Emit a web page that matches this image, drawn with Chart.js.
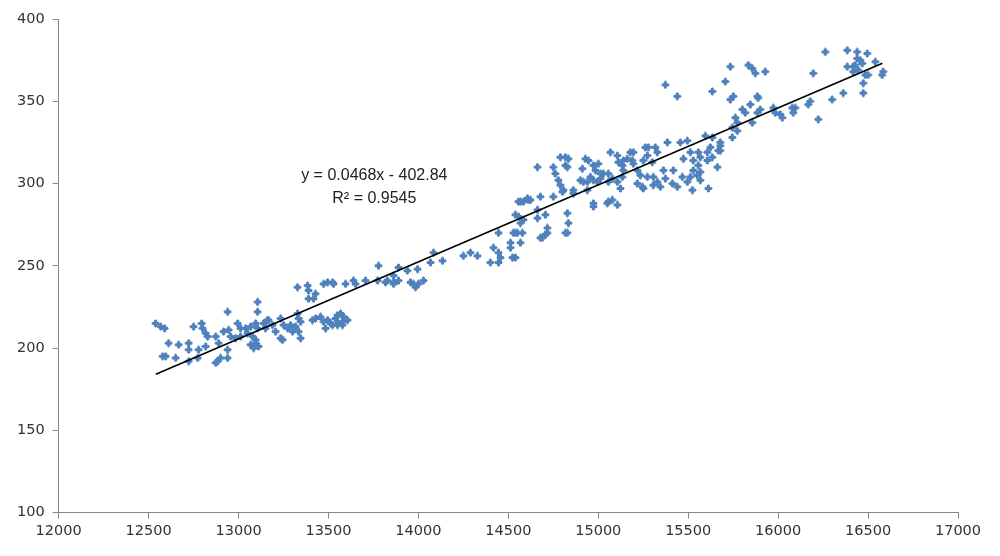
<!DOCTYPE html>
<html>
<head>
<meta charset="utf-8">
<script src="https://cdn.jsdelivr.net/npm/chart.js@4/dist/chart.umd.min.js"></script>
<style>
  html, body { margin: 0; padding: 0; background: #fff; }
  #wrap { width: 1000px; height: 556px; position: relative; }
</style>
</head>
<body>
<div id="wrap"><canvas id="grafico"></canvas></div>
<script>
// valores (x, y)
const valoresX = [
  12539, 12567, 12589, 12750, 12795, 12800, 12817, 12828, 12873, 12889,
  12611, 12667, 12723, 12723, 12778, 12817, 12578, 12595, 12650, 12723,
  12773, 12884, 12873, 12900, 12939, 12939, 12917, 12945, 12995, 12956,
  13011, 13050, 13067, 13095, 13106, 13095, 13106, 13106, 12939, 13039,
  13139, 13161, 13011, 13078, 13095, 12984, 13067, 13111, 13084,
  13778, 13862, 13328, 13384, 13389, 13428, 13389, 13417, 13473, 13495,
  13523, 13528, 13595, 13639, 13650, 13706, 13773, 13817, 13862, 13328,
  13167, 13189, 13234, 13250, 13273, 13289, 13317, 13334, 13345, 13300,
  13334, 13206, 13150, 13234, 13245, 13345, 13411, 13428, 13456, 13473,
  13495, 13512, 13539, 13550, 13567, 13584, 13578, 13556, 13606, 13484,
  13523, 13550, 13578,
  13828, 13862, 13889, 13889, 13939, 13956, 13973, 13984, 14000, 14028,
  13995, 14067, 14084, 14134, 14250, 14289, 14328, 14400, 14417, 14445,
  14445, 14456, 14512, 14512, 14523, 14539, 14445, 14528, 14539, 14550,
  14578, 14567, 14539, 14556, 14584, 14662, 14706, 14678, 14706, 14717,
  14817, 14834, 14828, 14567, 14584, 14611, 14973, 15056, 15106,
  14567, 14662, 14717, 14689, 14828, 14556, 14606, 14623, 14678, 14750,
  14662, 14761, 14750, 14778, 14789, 14806, 14800, 14817, 14834, 14817,
  14828, 14789, 14861, 14861, 14900, 14917, 14939, 14956, 14973, 14995,
  14911, 14928, 14945, 14973, 14984, 15000, 15012, 15012, 14939, 14973,
  15050, 15078, 15028, 15056, 15067, 15106, 15112, 15134, 15139, 15139,
  15161, 15178, 15195, 15189, 15195, 15217, 15234, 15250, 15261, 15273,
  15056, 15078, 15106, 15123, 15134, 15217, 15245, 15273,
  15278, 15317, 15328, 15300, 15384, 15456, 15495, 15595, 15634, 15678,
  15745, 15773, 15856, 15306, 15328, 15362, 15373, 15417, 15412, 15439,
  15473, 15512, 15528, 15556, 15567, 15606, 15606, 15623, 15634, 15678,
  15528, 15550, 15567, 15512, 15495, 15467, 15556, 15662, 15250, 15306,
  15345, 15523, 15612, 15567,
  15373, 15439, 15634, 15706, 15734, 15834, 15856, 15873, 15928, 15734,
  15751, 15884, 15889, 15845, 15762, 15801, 15817, 15884, 15900, 15973,
  15984, 16023, 16012, 16078, 16095, 16084, 16178, 16167, 16223, 16195,
  16262, 16300, 16362, 16384, 16439, 16473, 16495, 16456, 16467, 16417,
  16417, 16445, 16500, 16540, 16473, 16584, 16578, 16384, 15745, 15773,
  15678, 15667, 16484, 16428, 16439
];
const valoresY = [
  215, 213, 212, 213, 215, 212, 209, 207, 207, 203,
  203, 202, 203, 199, 199, 201, 195, 195, 194, 192,
  194, 192, 191, 194, 194, 199, 210, 211, 215, 207,
  207, 209, 213, 215, 212, 205, 228, 222, 222, 212,
  215, 217, 212, 207, 203, 206, 202, 201, 200,
  250, 244, 237, 238, 235, 233, 230, 230, 239, 240,
  240, 239, 239, 241, 239, 241, 241, 240, 239, 221,
  217, 214, 218, 214, 212, 214, 213, 218, 216, 210,
  210, 210, 212, 206, 205, 206, 217, 218, 219, 216,
  217, 215, 218, 220, 221, 219, 216, 215, 217, 212,
  214, 214, 214,
  241, 240, 241, 249, 247, 240, 239, 237, 239, 241,
  248, 252, 258, 253, 256, 258, 256, 252, 261, 258,
  252, 255, 261, 264, 255, 255, 270, 270, 270, 270,
  270, 264, 281, 280, 278, 284, 281, 267, 269, 270,
  270, 276, 282, 289, 289, 290, 288, 289, 287,
  276, 279, 273, 267, 270, 289, 291, 290, 292, 292,
  310, 306, 310, 302, 299, 296, 295, 316, 315, 311,
  310, 316, 296, 294, 302, 301, 301, 304, 302, 301,
  309, 315, 314, 311, 308, 312, 306, 303, 296, 286,
  288, 290, 306, 306, 319, 317, 313, 311, 314, 308,
  315, 319, 319, 314, 312, 308, 305, 314, 322, 317,
  301, 303, 301, 297, 304, 300, 298, 304,
  322, 322, 319, 313, 325, 325, 326, 329, 328, 323,
  328, 332, 337, 304, 301, 308, 303, 308, 300, 298,
  315, 319, 314, 319, 316, 319, 314, 322, 316, 320,
  308, 305, 307, 304, 301, 304, 311, 310, 297, 299,
  298, 296, 297, 302,
  360, 353, 356, 362, 371, 372, 370, 367, 368, 351,
  353, 353, 352, 348, 340, 345, 343, 343, 345, 346,
  343, 340, 342, 346, 346, 343, 350, 348, 339, 367,
  380, 351, 355, 381, 380, 355, 379, 375, 373, 371,
  368, 369, 366, 374, 361, 368, 366, 371, 334, 337,
  325, 320, 366, 372, 376
];

// línea de tendencia mostrada en el gráfico
const pendiente = 0.0468;
const intercepto = -402.84;
const tendenciaDesde = 12540;
const tendenciaHasta = 16580;
const textoEcuacion = "y = 0.0468x - 402.84";
const textoR2 = "R² = 0.9545";
const ecuacionX = 13755;
const ecuacionY = 305;

const ticksX = [12000, 12500, 13000, 13500, 14000, 14500, 15000, 15500, 16000, 16500, 17000];
const ticksY = [100, 150, 200, 250, 300, 350, 400];

const colorPuntos = "#4f81bd";
const colorEje = "#868686";

// marcador tipo estrella de 4 puntas (como el de Excel)
function crearMarcador(color) {
    var c = document.createElement('canvas');
    c.width = 9;
    c.height = 9;
    var g = c.getContext('2d');
    var m = 4.5, r = 4.5, ri = 1.75;
    g.fillStyle = color;
    g.beginPath();
    g.moveTo(m, m - r);
    g.lineTo(m + ri, m - ri);
    g.lineTo(m + r, m);
    g.lineTo(m + ri, m + ri);
    g.lineTo(m, m + r);
    g.lineTo(m - ri, m + ri);
    g.lineTo(m - r, m);
    g.lineTo(m - ri, m - ri);
    g.closePath();
    g.fill();
    g.fillRect(m - 1.5, m - 3.5, 3, 7);
    g.fillRect(m - 3.5, m - 1.5, 7, 3);
    return c;
}

var puntos = valoresX.map(function (x, i) { return { x: x, y: valoresY[i] }; });
var tendencia = [
    { x: tendenciaDesde, y: pendiente * tendenciaDesde + intercepto },
    { x: tendenciaHasta, y: pendiente * tendenciaHasta + intercepto }
];

var pluginEcuacion = {
    id: 'ecuacion',
    afterDatasetsDraw: function (chart) {
        var ctx = chart.ctx;
        var px = chart.scales.x.getPixelForValue(ecuacionX);
        var py = chart.scales.y.getPixelForValue(ecuacionY);
        ctx.save();
        ctx.fillStyle = "#222";
        ctx.font = "16px 'Liberation Sans'";
        ctx.textAlign = "center";
        ctx.textBaseline = "middle";
        ctx.fillText(textoEcuacion, px, py);
        ctx.fillText(textoR2, px, py + 23);
        ctx.restore();
    }
};

var ctx = document.getElementById('grafico').getContext('2d');
var grafico = new Chart(ctx, {
    type: 'scatter',
    data: {
        datasets: [{
            type: 'line',
            data: tendencia,
            borderColor: "#000",
            borderWidth: 1.7,
            pointRadius: 0,
            fill: false,
            order: 0
        }, {
            data: puntos,
            pointStyle: crearMarcador(colorPuntos),
            pointRadius: 4.5,
            backgroundColor: colorPuntos,
            order: 1
        }]
    },
    options: {
        responsive: true,
        maintainAspectRatio: false,
        animation: false,
        layout: {
            padding: { top: 19, right: 42, bottom: 12, left: 9 }
        },
        plugins: {
            legend: { display: false },
            tooltip: { enabled: false }
        },
        scales: {
            x: {
                type: 'linear',
                min: 12000,
                max: 17000,
                afterBuildTicks: function (axis) {
                    axis.ticks = ticksX.map(function (v) { return { value: v }; });
                },
                border: { color: colorEje, width: 1 },
                grid: {
                    drawOnChartArea: false,
                    drawTicks: true,
                    tickLength: 6,
                    color: colorEje
                },
                ticks: {
                    color: "#333",
                    padding: 4,
                    maxRotation: 0,
                    font: { family: "'DejaVu Sans'", size: 14.5 },
                    callback: function (v) { return String(v); }
                }
            },
            y: {
                type: 'linear',
                min: 100,
                max: 400,
                afterBuildTicks: function (axis) {
                    axis.ticks = ticksY.map(function (v) { return { value: v }; });
                },
                border: { color: colorEje, width: 1 },
                grid: {
                    drawOnChartArea: false,
                    drawTicks: true,
                    tickLength: 6,
                    color: colorEje
                },
                ticks: {
                    color: "#333",
                    padding: 8,
                    font: { family: "'DejaVu Sans'", size: 14.5 },
                    callback: function (v) { return String(v); }
                }
            }
        }
    },
    plugins: [pluginEcuacion]
});
</script>
</body>
</html>
